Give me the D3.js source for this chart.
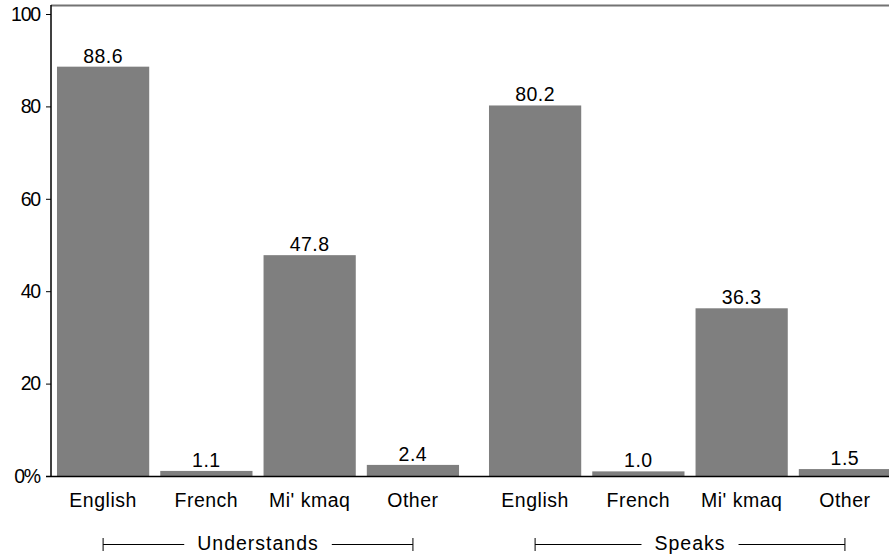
<!DOCTYPE html>
<html>
<head>
<meta charset="utf-8">
<script src="https://cdn.jsdelivr.net/npm/d3@7"></script>
<style>
  html, body { margin: 0; padding: 0; background: #fff; }
  svg { display: block; }
  text { font-family: "Liberation Sans", Arial, Helvetica, sans-serif; fill: #000; }
</style>
</head>
<body>
<svg id="chart" width="889" height="558"></svg>
<script>
const groups = ["Understands", "Speaks"];
const categories = ["English", "French", "Mi' kmaq", "Other"];
const understandsValues = [88.6, 1.1, 47.8, 2.4];
const speaksValues = [80.2, 1.0, 36.3, 1.5];
const yTicks = [0, 20, 40, 60, 80, 100];
const yTickLabels = ["0%", "20", "40", "60", "80", "100"];

const seriesByGroup = { "Understands": understandsValues, "Speaks": speaksValues };

const svg = d3.select("#chart");
const W = 889, H = 558;
const left = 51, bottom = 476;
const FS = "19.5px";

const x0 = d3.scaleBand().domain(groups).range([left, left + 2 * 432]).padding(0);
const x1 = d3.scaleBand().domain(categories).range([0, x0.bandwidth()])
  .paddingInner(0.107).paddingOuter(0.145).align(0.2);
const y = d3.scaleLinear().domain([0, 100]).range([bottom, 14]);

// top frame line
svg.append("line").attr("x1", left).attr("x2", W).attr("y1", 5.5).attr("y2", 5.5)
  .attr("stroke", "#737373").attr("stroke-width", 2);

// bars
const data = [];
groups.forEach(g => categories.forEach((c, i) => data.push({ g, c, v: seriesByGroup[g][i] })));

svg.append("g").selectAll("rect").data(data).join("rect")
  .attr("x", d => x0(d.g) + x1(d.c))
  .attr("width", x1.bandwidth())
  .attr("y", d => y(d.v))
  .attr("height", d => y(0) - y(d.v))
  .attr("fill", "#7f7f7f");

// value labels
svg.append("g").selectAll("text").data(data).join("text")
  .attr("x", d => x0(d.g) + x1(d.c) + x1.bandwidth() / 2)
  .attr("y", d => y(d.v) - 4)
  .attr("text-anchor", "middle")
  .style("font-size", FS)
  .style("letter-spacing", "0.5px")
  .text(d => d.v.toFixed(1));

// y axis
const yAxis = d3.axisLeft(y).tickValues(yTicks).tickSize(5).tickPadding(6)
  .tickFormat((d, i) => yTickLabels[i]);
const gy = svg.append("g").attr("transform", `translate(${left},0)`).call(yAxis);
gy.select(".domain").remove();
gy.selectAll(".tick line").attr("stroke", "#000");
gy.selectAll(".tick text").style("font-size", FS).style("font-family", "Liberation Sans, Arial, sans-serif").style("letter-spacing", "-1.2px");
svg.append("line").attr("x1", left).attr("x2", left).attr("y1", 5).attr("y2", bottom + 1)
  .attr("stroke", "#000").attr("stroke-width", 1.5);
// x baseline
svg.append("line").attr("x1", left - 5).attr("x2", W).attr("y1", bottom + 0.5).attr("y2", bottom + 0.5)
  .attr("stroke", "#000").attr("stroke-width", 1.5);

// category labels
svg.append("g").selectAll("text").data(data).join("text")
  .attr("x", d => x0(d.g) + x1(d.c) + x1.bandwidth() / 2)
  .attr("y", 507)
  .attr("text-anchor", "middle")
  .style("font-size", FS)
  .style("letter-spacing", "0.5px")
  .text(d => d.c);

// group brackets
groups.forEach(g => {
  const xa = x0(g) + x1(categories[0]) + x1.bandwidth() / 2;
  const xb = x0(g) + x1(categories[categories.length - 1]) + x1.bandwidth() / 2;
  const xm = (xa + xb) / 2;
  const by = 544.5;
  const t = svg.append("text").attr("x", xm).attr("y", 550).attr("text-anchor", "middle")
    .style("font-size", FS).style("letter-spacing", "1px").text(g);
  const tw = t.node().getComputedTextLength();
  const gap = 13;
  const gg = svg.append("g").attr("stroke", "#000").attr("stroke-width", 1);
  gg.append("line").attr("x1", xa).attr("x2", xm - tw / 2 - gap).attr("y1", by).attr("y2", by);
  gg.append("line").attr("x1", xm + tw / 2 + gap).attr("x2", xb).attr("y1", by).attr("y2", by);
  gg.append("line").attr("x1", xa).attr("x2", xa).attr("y1", 538).attr("y2", 551);
  gg.append("line").attr("x1", xb).attr("x2", xb).attr("y1", 538).attr("y2", 551);
});
</script>
</body>
</html>
